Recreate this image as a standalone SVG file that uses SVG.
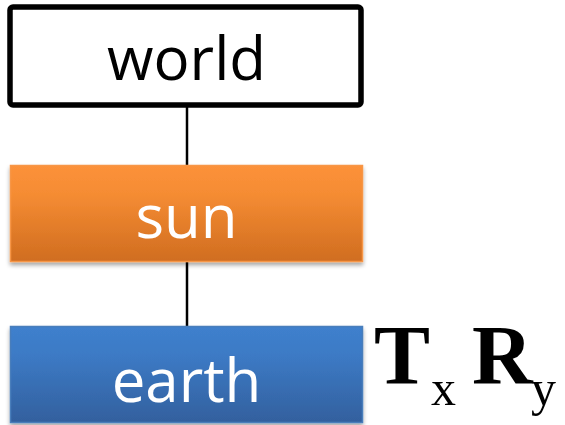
<svg xmlns="http://www.w3.org/2000/svg" width="565" height="425" viewBox="0 0 565 425">
<defs>
<linearGradient id="gOrange" x1="0" y1="0" x2="0" y2="1">
<stop offset="0" stop-color="#FC913A"/>
<stop offset="0.3" stop-color="#F58C33"/>
<stop offset="1" stop-color="#D06D20"/>
</linearGradient>
<linearGradient id="gBlue" x1="0" y1="0" x2="0" y2="1">
<stop offset="0" stop-color="#3F80CD"/>
<stop offset="0.3" stop-color="#3C7AC5"/>
<stop offset="1" stop-color="#33609E"/>
</linearGradient>
<filter id="shadow" x="-5%" y="-5%" width="110%" height="120%">
<feGaussianBlur in="SourceAlpha" stdDeviation="2"/>
<feOffset dx="0" dy="3" result="b"/>
<feComponentTransfer><feFuncA type="linear" slope="0.35"/></feComponentTransfer>
<feMerge><feMergeNode/><feMergeNode in="SourceGraphic"/></feMerge>
</filter>
</defs>
<style>
.lbl{font-family:"Open Sans","DejaVu Sans",sans-serif;font-size:60px;text-anchor:middle}
.math{font-family:"Liberation Serif","Times New Roman",serif}
.conn{stroke:#000;stroke-width:2.5;fill:none}
</style>
<g id="connectors">
<line class="conn" x1="187" y1="105" x2="187" y2="166"/>
<line class="conn" x1="187" y1="262" x2="187" y2="327"/>
</g>
<g id="world">
<rect x="10" y="7" width="351" height="98" rx="3" fill="#fff" stroke="#000" stroke-width="5.5"/>
<text class="lbl" x="186.5" y="80" fill="#000">world</text>
</g>
<g id="sun">
<rect x="10.5" y="165.5" width="352" height="96" fill="url(#gOrange)" stroke="#F79646" stroke-width="1.5" filter="url(#shadow)"/>
<text class="lbl" x="186.5" y="238" fill="#fff">sun</text>
</g>
<g id="earth">
<rect x="10.5" y="326.5" width="352" height="96" fill="url(#gBlue)" stroke="#4A7EBB" stroke-width="1.5" filter="url(#shadow)"/>
<text class="lbl" x="186.5" y="402" fill="#fff">earth</text>
</g>
<g id="label">
<text class="math" x="374" y="384" font-size="84" font-weight="bold">T</text>
<text class="math" x="431" y="405" font-size="50">x</text>
<text class="math" x="472" y="384" font-size="84" font-weight="bold">R</text>
<text class="math" x="531" y="405" font-size="50">y</text>
</g>
</svg>
